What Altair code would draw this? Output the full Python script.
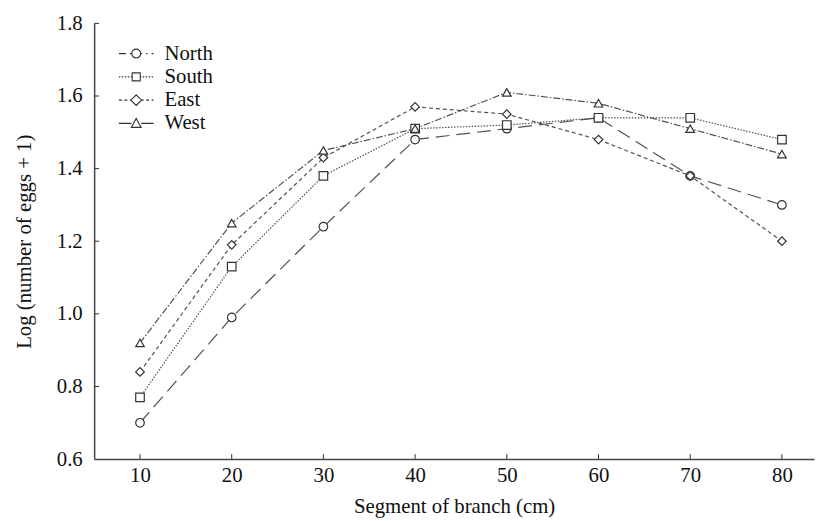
import altair as alt
import pandas as pd

segments = [10, 20, 30, 40, 50, 60, 70, 80]
north = [0.70, 0.99, 1.24, 1.48, 1.51, 1.54, 1.38, 1.30]
south = [0.77, 1.13, 1.38, 1.51, 1.52, 1.54, 1.54, 1.48]
east = [0.84, 1.19, 1.43, 1.57, 1.55, 1.48, 1.38, 1.20]
west = [0.92, 1.25, 1.45, 1.51, 1.61, 1.58, 1.51, 1.44]
series_names = ["North", "South", "East", "West"]
x_ticks = [10, 20, 30, 40, 50, 60, 70, 80]
y_ticks = [0.6, 0.8, 1.0, 1.2, 1.4, 1.6, 1.8]

rows = []
for name, vals in zip(series_names, [north, south, east, west]):
    for s, v in zip(segments, vals):
        rows.append({"seg": s, "val": v, "dir": name, "dir2": name})
df = pd.DataFrame(rows)

FONT = "Liberation Serif, Times New Roman, serif"
FS = 21
W, H = 727, 440
xs = alt.Scale(domain=[5, 83.5], nice=False, zero=False)
ys = alt.Scale(domain=[0.6, 1.8], nice=False, zero=False)

dash_px = [[14, 7], [1.5, 1.5], [4, 3], [7, 2, 1.5, 2]]
legend_dash_px = [[7, 4, 1.5, 4], [1.5, 1.5], [3, 2.5], [40, 1]]
dash = alt.Scale(domain=series_names, range=dash_px)
shp = alt.Scale(domain=series_names,
                range=["circle", "square", "diamond", "triangle-up"])

# legend symbols: dashed stroke with marker in the middle (unit = K px)
K = 9.0
HALF = 17.5 / K
markers = [
    "M0.5,0A0.5,0.5 0 1,1 -0.5,0A0.5,0.5 0 1,1 0.5,0Z",
    "M-0.45,-0.45H0.45V0.45H-0.45Z",
    "M0,-0.6L0.6,0L0,0.6L-0.6,0Z",
    "M0,-0.55L0.55,0.45L-0.55,0.45Z",
]
gap_r = [0.5, 0.45, 0.6, 0.55]


def legend_path(pattern, marker, r):
    segs = []
    pos = -HALF
    i = 0
    on = True
    while pos < HALF:
        ln = pattern[i % len(pattern)] / K
        end = min(pos + ln, HALF)
        if on:
            a, b = pos, end
            for lo, hi in [(-HALF, -r), (r, HALF)]:
                aa, bb = max(a, lo), min(b, hi)
                if bb > aa + 0.01:
                    segs.append(f"M{aa:.3f},0L{bb:.3f},0")
        pos = end
        on = not on
        i += 1
    return "".join(segs) + marker


leg_paths = [legend_path(p, m, r) for p, m, r in zip(legend_dash_px, markers, gap_r)]
leg_scale = alt.Scale(domain=series_names, range=leg_paths)

base = alt.Chart(df)

lines = base.mark_line(color="#505050", strokeWidth=1.2).encode(
    x=alt.X("seg:Q", scale=xs,
            axis=alt.Axis(values=x_ticks, title="Segment of branch (cm)", grid=False,
                          tickSize=0, labelPadding=6, titlePadding=10)),
    y=alt.Y("val:Q", scale=ys,
            axis=alt.Axis(values=y_ticks, title="Log (number of eggs + 1)", grid=False,
                          tickSize=0, labelPadding=12, titlePadding=22, format=".1f")),
    strokeDash=alt.StrokeDash("dir:N", scale=dash, legend=None),
    detail="dir:N",
)

points = base.mark_point(filled=False, fill="white", fillOpacity=1, color="#333",
                         strokeWidth=1.2, size=75).encode(
    x=alt.X("seg:Q", scale=xs),
    y=alt.Y("val:Q", scale=ys),
    shape=alt.Shape("dir:N", scale=shp, legend=None),
)

legend_layer = alt.Chart(df).transform_filter("false").mark_point(
    filled=False, color="#333").encode(
    shape=alt.Shape("dir2:N", scale=leg_scale, sort=series_names,
                    legend=alt.Legend(title=None, orient="none", legendX=32, legendY=20,
                                      padding=0, symbolSize=(2 * K) ** 2,
                                      symbolFillColor="white", symbolStrokeColor="#333",
                                      symbolStrokeWidth=1.1, symbolOpacity=1,
                                      labelFont=FONT, labelFontSize=FS, labelColor="#111",
                                      rowPadding=1.5, labelOffset=18)),
)

xt = pd.DataFrame({"t": x_ticks})
xtick = alt.Chart(xt).mark_rule(color="#333", strokeWidth=1).encode(
    x=alt.X("t:Q", scale=xs), y=alt.value(H), y2=alt.value(H - 5))
yt = pd.DataFrame({"t": y_ticks[1:]})
ytick = alt.Chart(yt).mark_rule(color="#333", strokeWidth=1).encode(
    y=alt.Y("t:Q", scale=ys), x=alt.value(0), x2=alt.value(5))

chart = alt.layer(lines, points, legend_layer, xtick, ytick).resolve_scale(
    shape="independent"
).properties(
    width=W, height=H,
    autosize=alt.AutoSizeParams(type="none"),
    padding={"left": 87, "top": 13, "right": 1, "bottom": 60},
).configure_view(stroke=None).configure_axis(
    domainColor="#444", domainWidth=1.5,
    labelFont=FONT, labelFontSize=FS, labelColor="#111",
    titleFont=FONT, titleFontSize=FS, titleColor="#111", titleFontWeight="normal",
).configure_axisY(labelAlign="right")

chart.save("out.html", embed_options={"renderer": "svg", "actions": False})
